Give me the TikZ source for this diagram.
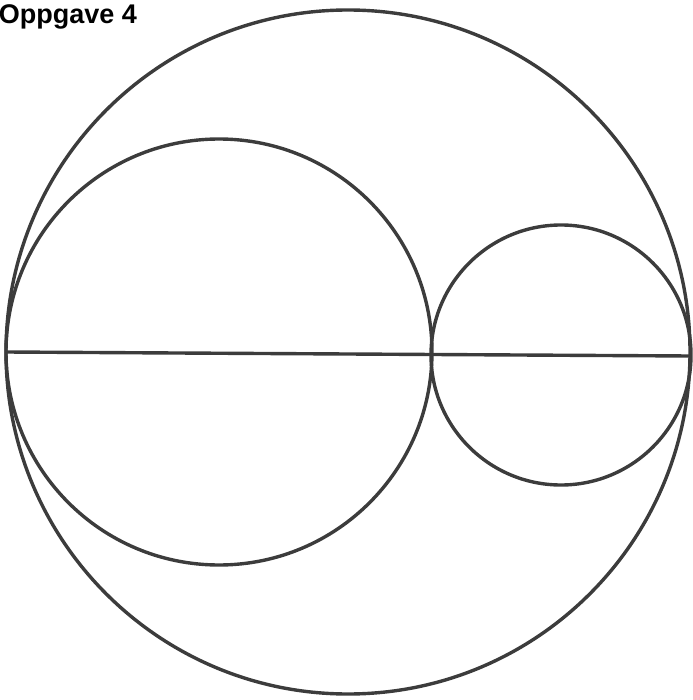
\documentclass[tikz,border=0pt]{standalone}
\usepackage{fontspec}
\setmainfont{Liberation Sans}
\usetikzlibrary{positioning}
\definecolor{inkgray}{RGB}{60,60,60}

\begin{document}
\begin{tikzpicture}[
    x=1pt, y=-1pt,
    ring/.style={draw=inkgray, line width=3.4pt},
    chord/.style={draw=inkgray, line width=3.4pt},
    title/.style={font=\bfseries\fontsize{27}{30}\selectfont, inner sep=0pt, anchor=base east}
]
\useasboundingbox (0,0) rectangle (692,700);

\node[title] (heading) at (137,24) {Oppgave 4};

% centres of the three circles
\coordinate (big) at (348,352);
\coordinate (left) at (219,352);
\coordinate (right) at (561,355);

\draw[ring] (big) circle (342);
\draw[ring] (left) circle (213);
\draw[ring] (right) circle (130);

% diameter through the touching point
\coordinate (west) at (6,352);
\coordinate (east) at (690,356);
\draw[chord] (west) -- (east);

\end{tikzpicture}
\end{document}
